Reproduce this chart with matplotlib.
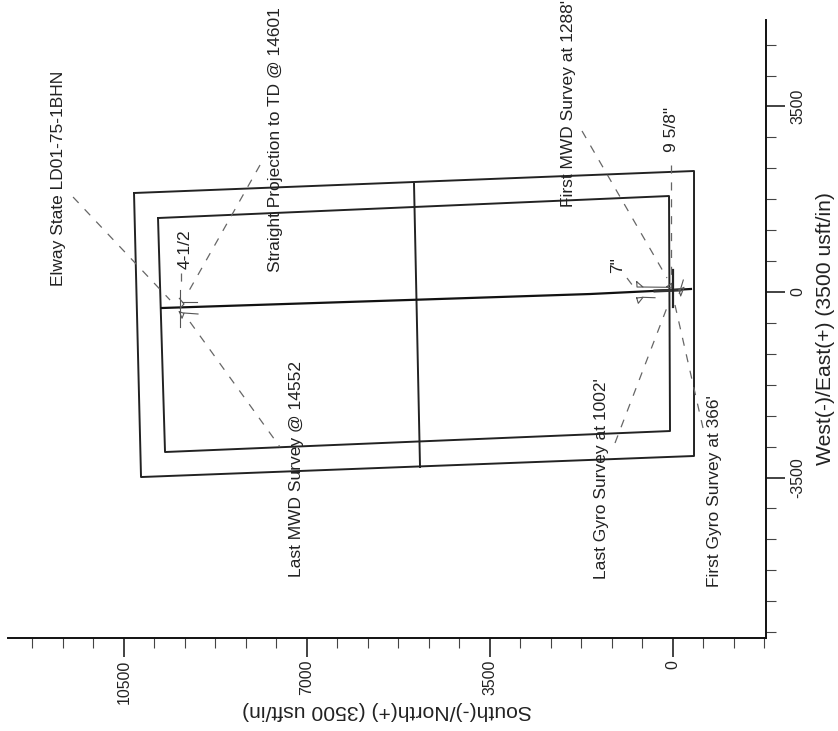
import matplotlib
matplotlib.use("Agg")
import matplotlib.pyplot as plt
from matplotlib.ticker import MultipleLocator

plt.rcParams['font.family'] = ['Liberation Sans', 'DejaVu Sans']
plt.rcParams['axes.unicode_minus'] = False

# everything in usft, north along x and east along y
outer_n = [10308, -402, -402, 10174, 10308]
outer_e = [1868, 2283, -3094, -3491, 1868]
inner_n = [9849, 76, 57, 9715, 9849]
inner_e = [1396, 1811, -2623, -3019, 1396]
center_n = [4953, 4838]
center_e = [2038, -3302]
well_n = [9778, 5067, 1587, 382, 0, -344]
well_e = [-302, -151, -38, 19, 38, 57]

leaders = [
    ([11474, 9619], [1792, -151]),
    ([9237, 7516], [-566, -2925]),
    ([7898, 9313], [2396, -75]),
    ([9415, 9415], [358, 75]),
    ([1740, 115], [3038, 264]),
    ([1109, 96], [-2849, -245]),
    ([-574, -38], [-2566, -245]),
    ([38, 38], [2396, 321]),
    ([880, 765], [264, 113]),
]

# casing shoe symbols
shoe_lines = [
    ([9428, 9428], [38, -660]),
    ([9396, 9103], [-189, -189]),
    ([9352, 9084], [-396, -415]),
    ([9441, 9352, 9428], [-119, -226, -308]),
    ([9441, 9352, 9390, 9441], [-372, -402, -496, -372]),
    ([694, 574, 688, 694], [194, 94, 94, 194]),
    ([574, 96], [94, 89]),
    ([694, 574, 664, 694], [-113, -100, -213, -113]),
    ([574, 344], [-100, -108]),
    ([-115, -210, -147, -115], [38, 89, -75, 38]),
    ([-197, -120], [226, -25]),
    ([120, 25, 25, 120], [100, 164, 70, 100]),
]
thick_n = [0, 0]
thick_e = [415, -283]
thick2_n = [344, -134]
thick2_e = [19, 38]

labels = ["Elway State LD01-75-1BHN", "Straight Projection to TD @ 14601", "First MWD Survey at 1288'",
          '9 5/8"', '7"', "4-1/2", "Last MWD Survey @ 14552", "Last Gyro Survey at 1002'",
          "First Gyro Survey at 366'"]
label_n = [11761, 7611, 2008, 38, 1052, 9332, 7191, 1358, -803]
label_e = [113, 377, 1604, 2642, 358, 434, -5377, -5415, -5566]

fig = plt.figure(figsize=(8.38, 7.31), dpi=100)
ax = fig.add_axes([8 / 838, 93 / 731, 757.7 / 838, 618 / 731])

ax.plot(outer_n, outer_e, color='#222222', lw=1.4)
ax.plot(inner_n, inner_e, color='#222222', lw=1.4)
ax.plot(center_n, center_e, color='#222222', lw=1.4)
ax.plot(well_n, well_e, color='#111111', lw=1.6)
ax.plot(thick2_n, thick2_e, color='#333333', lw=2.2)
ax.plot(thick_n, thick_e, color='#222222', lw=1.6)

for n, e in leaders:
    ax.plot(n, e, color='#666666', lw=0.9, dashes=(6.5, 7))
for n, e in shoe_lines:
    ax.plot(n, e, color='#555555', lw=0.8)

for t, n, e in zip(labels, label_n, label_e):
    ax.text(n, e, t, rotation=90, ha='center', va='bottom', fontsize=12.5, color='#222222')

ax.set_xlim(12718, -1773)
ax.set_ylim(-6528, 5132)

for s in ['top', 'left']:
    ax.spines[s].set_visible(False)
for s in ['bottom', 'right']:
    ax.spines[s].set_linewidth(1.4)
    ax.spines[s].set_color('#111111')

ax.xaxis.set_major_locator(MultipleLocator(3500))
ax.xaxis.set_minor_locator(MultipleLocator(3500 / 6))
ax.yaxis.set_major_locator(MultipleLocator(3500))
ax.yaxis.set_minor_locator(MultipleLocator(3500 / 6))
ax.yaxis.tick_right()
ax.yaxis.set_label_position('right')

ax.tick_params(which='major', length=13.7, width=1.2, colors='#222222', labelsize=11.4, pad=2)
ax.tick_params(which='minor', length=7.2, width=0.8, color='#444444')
ax.tick_params(axis='y', which='major', pad=4)
plt.setp(ax.get_xticklabels(), rotation=90, ha='center', va='top')
plt.setp(ax.get_yticklabels(), rotation=90, ha='left', va='center')

ax.set_xlabel("South(-)/North(+) (3500 usft/in)", rotation=180, fontsize=15.2, color='#222222', labelpad=-2)
ax.set_ylabel("West(-)/East(+) (3500 usft/in)", rotation=90, fontsize=15.2, color='#222222', labelpad=8)

fig.savefig("out.png", dpi=100)
